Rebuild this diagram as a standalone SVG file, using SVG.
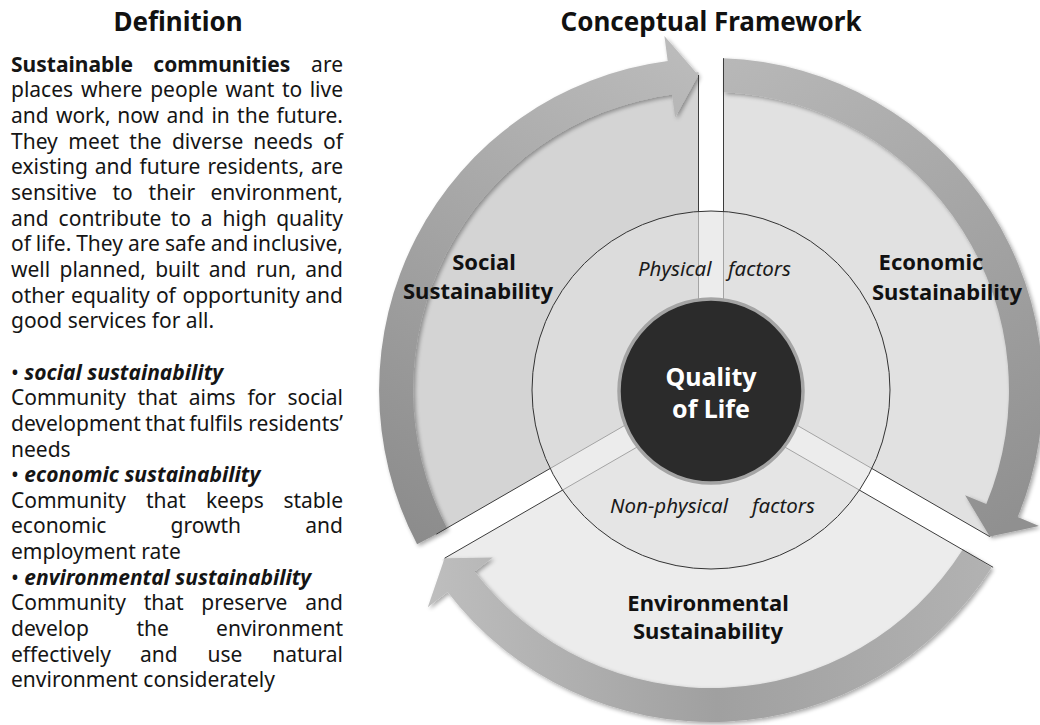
<svg xmlns="http://www.w3.org/2000/svg" width="1040" height="725" viewBox="0 0 1040 725">
  <defs>
    <style>
      .title { font-family: "Noto Sans", "Open Sans", sans-serif; font-size: 26px; font-weight: bold; fill: #111; }
      .body { font-family: "Noto Sans", "Open Sans", sans-serif; font-size: 21px; fill: #151515; }
      .b { font-weight: bold; }
      .bi { font-weight: bold; font-style: italic; }
      .end { text-anchor: end; }
      .label { font-family: "Noto Sans", "Open Sans", sans-serif; font-size: 22px; font-weight: bold; fill: #111; text-anchor: middle; }
      .factor { font-family: "Noto Sans", "Open Sans", sans-serif; font-size: 20.5px; font-style: italic; fill: #1a1a1a; }
      .core { font-family: "Noto Sans", "Open Sans", sans-serif; font-size: 25px; font-weight: bold; fill: #ffffff; text-anchor: middle; }
      .edge { fill: none; stroke: #3c3c3c; stroke-width: 1; }
    </style>
    <linearGradient id="gSocial" gradientUnits="userSpaceOnUse" x1="700" y1="50" x2="420" y2="540">
      <stop offset="0" stop-color="#bcbcbc"/>
      <stop offset="1" stop-color="#8c8c8c"/>
    </linearGradient>
    <linearGradient id="gEconomic" gradientUnits="userSpaceOnUse" x1="720" y1="60" x2="1000" y2="530">
      <stop offset="0" stop-color="#b8b8b8"/>
      <stop offset="1" stop-color="#909090"/>
    </linearGradient>
    <linearGradient id="gEnvironmental" gradientUnits="userSpaceOnUse" x1="990" y1="560" x2="430" y2="590">
      <stop offset="0" stop-color="#b2b2b2"/>
      <stop offset="0.5" stop-color="#a0a0a0"/>
      <stop offset="1" stop-color="#bebebe"/>
    </linearGradient>
    <filter id="soft" x="-10%" y="-10%" width="120%" height="120%">
      <feGaussianBlur in="SourceAlpha" stdDeviation="2"/>
      <feOffset dx="1.5" dy="1.5" result="sh"/>
      <feComponentTransfer in="sh" result="shadow">
        <feFuncA type="linear" slope="0.35"/>
      </feComponentTransfer>
      <feGaussianBlur in="SourceGraphic" stdDeviation="0.6" result="src"/>
      <feMerge>
        <feMergeNode in="shadow"/>
        <feMergeNode in="src"/>
      </feMerge>
    </filter>
  </defs>

  <rect width="1040" height="725" fill="#ffffff"/>

  <!-- Left column: definition text, justified word by word -->
  <g id="definition">
    <text class="title" x="178" y="31" text-anchor="middle">Definition</text>
    <text class="body" y="71.7"><tspan class="b" x="11">Sustainable</tspan><tspan class="b" x="153.3">communities</tspan><tspan class="end" x="343">are</tspan></text>
    <text class="body" y="97.4"><tspan x="11">places</tspan><tspan x="80.9">where</tspan><tspan x="150.2">people</tspan><tspan x="225.5">want</tspan><tspan x="281.9">to</tspan><tspan class="end" x="343">live</tspan></text>
    <text class="body" y="123"><tspan x="11">and</tspan><tspan x="55.9">work,</tspan><tspan x="117.2">now</tspan><tspan x="166.5">and</tspan><tspan x="211.4">in</tspan><tspan x="237.1">the</tspan><tspan class="end" x="343">future.</tspan></text>
    <text class="body" y="148.7"><tspan x="11">They</tspan><tspan x="68.3">meet</tspan><tspan x="129.3">the</tspan><tspan x="171.9">diverse</tspan><tspan x="253.2">needs</tspan><tspan class="end" x="343">of</tspan></text>
    <text class="body" y="174.3"><tspan x="11">existing</tspan><tspan x="94.8">and</tspan><tspan x="139.5">future</tspan><tspan x="207.5">residents,</tspan><tspan class="end" x="343">are</tspan></text>
    <text class="body" y="200"><tspan x="11">sensitive</tspan><tspan x="112.4">to</tspan><tspan x="148.6">their</tspan><tspan class="end" x="343">environment,</tspan></text>
    <text class="body" y="225.6"><tspan x="11">and</tspan><tspan x="58.6">contribute</tspan><tspan x="170.7">to</tspan><tspan x="200.7">a</tspan><tspan x="222.5">high</tspan><tspan class="end" x="343">quality</tspan></text>
    <text class="body" y="251.3"><tspan x="11">of</tspan><tspan x="35.8">life.</tspan><tspan x="76.2">They</tspan><tspan x="128">are</tspan><tspan x="165">safe</tspan><tspan x="210.7">and</tspan><tspan class="end" x="343">inclusive,</tspan></text>
    <text class="body" y="276.9"><tspan x="11">well</tspan><tspan x="59.5">planned,</tspan><tspan x="155.2">built</tspan><tspan x="208.8">and</tspan><tspan x="256">run,</tspan><tspan class="end" x="343">and</tspan></text>
    <text class="body" y="302.6"><tspan x="11">other</tspan><tspan x="71.1">equality</tspan><tspan x="155.9">of</tspan><tspan x="182.5">opportunity</tspan><tspan class="end" x="343">and</tspan></text>
    <text class="body" x="11" y="328.2">good services for all.</text>

    <text class="body" x="11" y="379.5">• <tspan class="bi">social sustainability</tspan></text>
    <text class="body" y="405.2"><tspan x="11">Community</tspan><tspan x="137.4">that</tspan><tspan x="188.7">aims</tspan><tspan x="247.4">for</tspan><tspan class="end" x="343">social</tspan></text>
    <text class="body" y="430.8"><tspan x="11">development</tspan><tspan x="145.2">that</tspan><tspan x="189.2">fulfils</tspan><tspan class="end" x="343">residents’</tspan></text>
    <text class="body" x="11" y="456.5">needs</text>
    <text class="body" x="11" y="482.1">• <tspan class="bi">economic sustainability</tspan></text>
    <text class="body" y="507.8"><tspan x="11">Community</tspan><tspan x="146">that</tspan><tspan x="205.9">keeps</tspan><tspan class="end" x="343">stable</tspan></text>
    <text class="body" y="533.4"><tspan x="11">economic</tspan><tspan x="170.5">growth</tspan><tspan class="end" x="343">and</tspan></text>
    <text class="body" x="11" y="559.1">employment rate</text>
    <text class="body" x="11" y="584.7">• <tspan class="bi">environmental sustainability</tspan></text>
    <text class="body" y="610.4"><tspan x="11">Community</tspan><tspan x="143.7">that</tspan><tspan x="201.3">preserve</tspan><tspan class="end" x="343">and</tspan></text>
    <text class="body" y="636"><tspan x="11">develop</tspan><tspan x="136.5">the</tspan><tspan class="end" x="343">environment</tspan></text>
    <text class="body" y="661.7"><tspan x="11">effectively</tspan><tspan x="140">and</tspan><tspan x="207.5">use</tspan><tspan class="end" x="343">natural</tspan></text>
    <text class="body" x="11" y="687.3">environment considerately</text>
  </g>

  <!-- Right column: framework -->
  <text id="framework-title" class="title" x="711" y="31" text-anchor="middle">Conceptual Framework</text>

  <!-- Three outer sectors, separated by 25px gaps -->
  <g id="social">
    <path d="M 698.5 382.8 L 429.6 538.1 A 318 318 0 0 1 698.5 72.25 Z" fill="#d4d4d4"/>
  </g>
  <g id="economic">
    <path d="M 723.5 382.8 L 723.5 72.25 A 318 318 0 0 1 992.4 538.1 Z" fill="#e1e1e1"/>
  </g>
  <g id="environmental">
    <path d="M 711 404.4 L 979.9 559.7 A 318 318 0 0 1 442.1 559.7 Z" fill="#ececec"/>
  </g>

  <!-- Circular arrows around the sectors -->
  <g id="connectors" filter="url(#soft)">
    <path d="M 417.1 544.3 A 332 332 0 0 1 667.7 60.9 L 664.4 36.1 L 698.4 75.3 L 675.1 117.4 L 672.1 94.6 A 298 298 0 0 0 447.2 528.5 Z" fill="url(#gSocial)"/>
    <path d="M 723.5 58.2 A 332 332 0 0 1 1017.7 517.1 L 1039 525.9 L 989.8 536.6 L 965.1 495.2 L 986.3 504 A 298 298 0 0 0 723.5 92.3 Z" fill="url(#gEconomic)"/>
    <path d="M 991.6 567.4 A 332 332 0 0 1 447.6 592.1 L 427.8 607.3 L 444.6 558.2 L 492.8 557.4 L 474.6 571.4 A 298 298 0 0 0 962.9 549.3 Z" fill="url(#gEnvironmental)"/>
  </g>

  <!-- Straight sector edges -->
  <g id="sector-edges">
    <path class="edge" d="M 698.5 382.8 L 436.3 534.2 M 698.5 382.8 L 698.5 75"/>
    <path class="edge" d="M 723.5 382.8 L 723.5 58.2 M 723.5 382.8 L 989.8 536.6"/>
    <path class="edge" d="M 711 404.4 L 993.1 567.3 M 711 404.4 L 444.6 558.2"/>
  </g>

  <!-- Sector labels -->
  <g id="social-label">
    <text class="label"><tspan x="484" y="270">Social</tspan><tspan x="478" y="299">Sustainability</tspan></text>
  </g>
  <g id="economic-label">
    <text class="label"><tspan x="931" y="270">Economic</tspan><tspan x="947" y="300">Sustainability</tspan></text>
  </g>
  <g id="environmental-label">
    <text class="label"><tspan x="708" y="611">Environmental</tspan><tspan x="708" y="638.5">Sustainability</tspan></text>
  </g>

  <!-- Middle ring: physical / non-physical factors -->
  <g id="factors">
    <circle cx="711" cy="390" r="179" fill="#e1e1e1" fill-opacity="0.63" stroke="#333333" stroke-width="1"/>
    <text class="factor" y="276"><tspan x="638">Physical</tspan><tspan x="728">factors</tspan></text>
    <text class="factor" y="513"><tspan x="610">Non-physical</tspan><tspan x="752">factors</tspan></text>
  </g>

  <!-- Core -->
  <g id="quality-of-life">
    <circle cx="711" cy="391" r="92" fill="#2b2b2b" stroke="#a4a4a4" stroke-width="3.5"/>
    <text class="core"><tspan x="711" y="386">Quality</tspan><tspan x="711" y="417.5">of Life</tspan></text>
  </g>
</svg>
